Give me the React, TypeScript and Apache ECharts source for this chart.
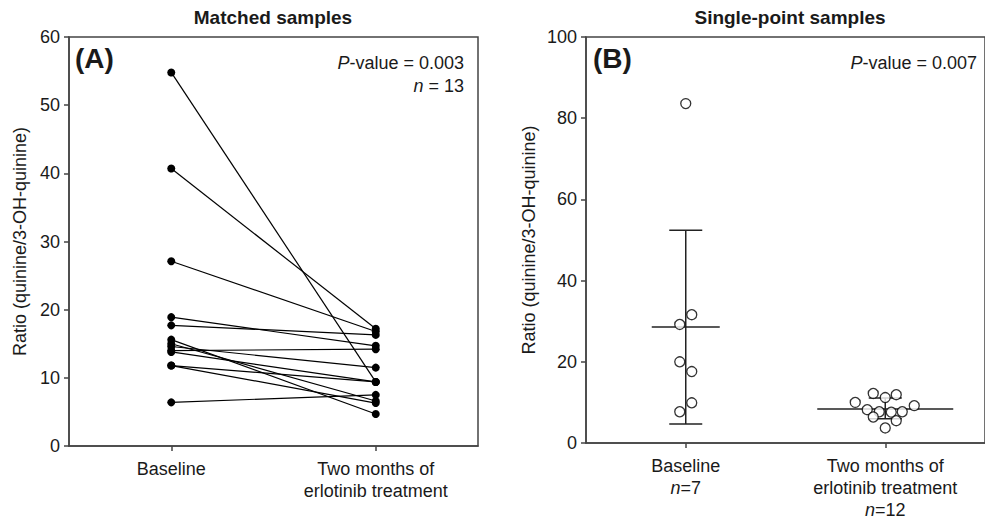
import React, { useEffect, useRef } from "react";
import * as echarts from "echarts";

// ---- Data ----
const CATEGORIES = ["Baseline", "Two months of\nerlotinib treatment"];

// Panel A: matched samples (baseline -> two months), n = 13
const BASELINE_A = [54.8, 40.7, 27.1, 18.9, 17.7, 15.6, 15.0, 14.6, 14.0, 13.8, 11.8, 11.8, 6.4];
const TWO_MONTHS_A = [9.4, 17.2, 16.8, 14.7, 16.3, 4.7, 6.6, 11.5, 14.2, 9.4, 9.4, 6.3, 7.5];

// Panel B: single-point samples
const BASELINE_B = [83.6, 31.6, 29.2, 20.0, 17.6, 9.9, 7.7];
const TWO_MONTHS_B = [12.2, 11.2, 11.9, 10.0, 8.2, 7.7, 7.6, 7.7, 9.2, 6.4, 5.5, 3.7];
const N_B = [7, 12];
const MEAN_B = [28.6, 8.4];
const SD_LOW_B = [4.7, 6.0];
const SD_HIGH_B = [52.4, 11.1];

const Y_A = { min: 0, max: 60, interval: 10 };
const Y_B = { min: 0, max: 100, interval: 20 };

// ---- Styles (pixel offsets for jittered points, bar widths) ----
const JITTER_BASE_PX = [0, 6, -6, -6, 6, 6, -6];
const JITTER_TWO_PX = [-12, 0, 11, -30, -18, -6, 6, 17, 29, -12, 11, 0];
const MEAN_HALF_PX = [34, 68];
const CAP_HALF_PX = 16.5;

const FONT = "'Liberation Sans', Arial, Helvetica, sans-serif";
const AXIS_COLOR = "#444";
const TEXT_COLOR = "#1a1a1a";

export default function App() {
  const ref = useRef<HTMLDivElement>(null);

  useEffect(() => {
    if (!ref.current) return;
    const chart = echarts.init(ref.current, undefined, { renderer: "svg" });

    const axisLine = { show: true, lineStyle: { color: AXIS_COLOR, width: 1.5 } };
    const axisTick = { show: true, length: 5, lineStyle: { color: AXIS_COLOR, width: 1.5 } };
    const labelBase = { fontSize: 18, fontFamily: FONT, color: TEXT_COLOR };

    const xAxisCommon = (gridIndex: number, withN: boolean) => ({
      gridIndex,
      type: "category",
      data: CATEGORIES,
      boundaryGap: true,
      axisLine,
      axisTick: { ...axisTick, alignWithLabel: true },
      splitLine: { show: false },
      axisLabel: {
        ...labelBase,
        margin: 12,
        lineHeight: 22,
        interval: 0,
        formatter: (v: string, i: number) => (withN ? `${v}\n{i|n}=${N_B[i]}` : v),
        rich: {
          i: { fontStyle: "italic", fontSize: 18, fontFamily: FONT, color: TEXT_COLOR, lineHeight: 22 },
        },
      },
    });

    const yAxisCommon = (gridIndex: number, range: any, gap: number) => ({
      gridIndex,
      type: "value",
      min: range.min,
      max: range.max,
      interval: range.interval,
      axisLine,
      axisTick,
      splitLine: { show: false },
      axisLabel: { ...labelBase, margin: 9 },
      name: "Ratio (quinine/3-OH-quinine)",
      nameLocation: "middle",
      nameRotate: 90,
      nameGap: gap,
      nameTextStyle: { fontSize: 18, fontFamily: FONT, color: TEXT_COLOR },
    });

    const lineSeries = BASELINE_A.map((b, i) => ({
      type: "line",
      xAxisIndex: 0,
      yAxisIndex: 0,
      data: [b, TWO_MONTHS_A[i]],
      symbol: "circle",
      symbolSize: 8,
      lineStyle: { color: "#000", width: 1.2 },
      itemStyle: { color: "#000" },
      z: 3,
    }));

    const errorSeries = {
      type: "custom",
      xAxisIndex: 1,
      yAxisIndex: 1,
      data: MEAN_B.map((m, i) => [i, m, SD_LOW_B[i], SD_HIGH_B[i]]),
      encode: { x: 0, y: [1, 2, 3] },
      z: 2,
      renderItem: (params: any, api: any) => {
        const cat = api.value(0);
        const pm = api.coord([cat, api.value(1)]);
        const pl = api.coord([cat, api.value(2)]);
        const ph = api.coord([cat, api.value(3)]);
        const mh = MEAN_HALF_PX[params.dataIndex];
        const ch = CAP_HALF_PX;
        const style = { stroke: "#222", lineWidth: 1.5 };
        return {
          type: "group",
          children: [
            { type: "line", shape: { x1: pl[0], y1: pl[1], x2: ph[0], y2: ph[1] }, style },
            { type: "line", shape: { x1: pl[0] - ch, y1: pl[1], x2: pl[0] + ch, y2: pl[1] }, style },
            { type: "line", shape: { x1: ph[0] - ch, y1: ph[1], x2: ph[0] + ch, y2: ph[1] }, style },
            { type: "line", shape: { x1: pm[0] - mh, y1: pm[1], x2: pm[0] + mh, y2: pm[1] }, style },
          ],
        };
      },
    };

    const scatterStyle = {
      type: "scatter",
      xAxisIndex: 1,
      yAxisIndex: 1,
      symbol: "circle",
      symbolSize: 10,
      itemStyle: { color: "#fff", borderColor: "#000", borderWidth: 1.3 },
      z: 4,
    };

    const scatterBase = {
      ...scatterStyle,
      data: BASELINE_B.map((v, i) => ({ value: [CATEGORIES[0], v], symbolOffset: [JITTER_BASE_PX[i], 0] })),
    };
    const scatterTwo = {
      ...scatterStyle,
      data: TWO_MONTHS_B.map((v, i) => ({ value: [CATEGORIES[1], v], symbolOffset: [JITTER_TWO_PX[i], 0] })),
    };

    const textEl = (text: string, x: number, y: number, size: number, bold: boolean, align: string) => ({
      type: "text",
      x,
      y,
      style: {
        text,
        fontSize: size,
        fontWeight: bold ? "bold" : "normal",
        fontFamily: FONT,
        fill: TEXT_COLOR,
        align,
        textAlign: align,
        verticalAlign: "middle",
        textVerticalAlign: "middle",
        rich: {
          i: { fontStyle: "italic", fontSize: size, fontFamily: FONT, fill: TEXT_COLOR, color: TEXT_COLOR },
        },
      },
      z: 10,
    });

    chart.setOption({
      animation: false,
      backgroundColor: "#fff",
      grid: [
        { left: 69, top: 37, width: 409, height: 409, show: true, borderColor: AXIS_COLOR, borderWidth: 1.5, containLabel: false },
        { left: 586, top: 37, width: 409, height: 409, show: true, borderColor: AXIS_COLOR, borderWidth: 1.5, containLabel: false },
      ],
      xAxis: [xAxisCommon(0, false), xAxisCommon(1, true)],
      yAxis: [yAxisCommon(0, Y_A, 40), yAxisCommon(1, Y_B, 48)],
      series: [...lineSeries, errorSeries, scatterBase, scatterTwo],
      graphic: [
        textEl("Matched samples", 273, 17, 19, true, "center"),
        textEl("Single-point samples", 790, 17, 19, true, "center"),
        textEl("(A)", 75, 58, 28, true, "left"),
        textEl("(B)", 593, 58, 28, true, "left"),
        textEl("{i|P}-value = 0.003", 464, 63, 18, false, "right"),
        textEl("{i|n} = 13", 464, 86, 18, false, "right"),
        textEl("{i|P}-value = 0.007", 977, 63, 18, false, "right"),
      ],
    });

    return () => chart.dispose();
  }, []);

  return (
    <div
      ref={ref}
      style={{ position: "absolute", left: 0, top: 0, width: 985, height: 521, background: "#fff" }}
    />
  );
}
